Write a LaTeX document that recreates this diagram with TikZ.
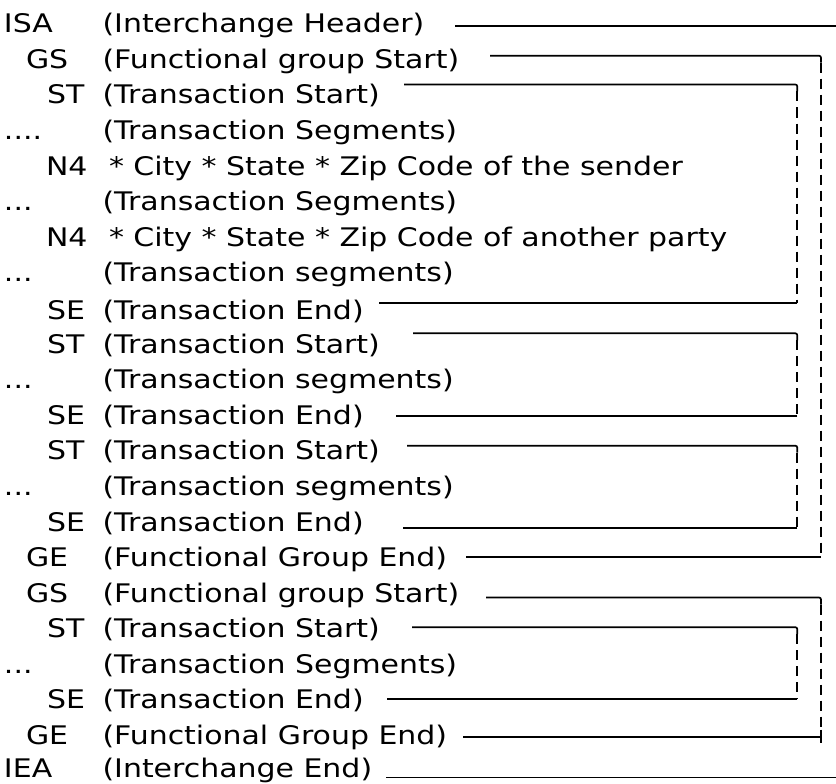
\documentclass[tikz,border=0pt]{standalone}
\usepackage{fontspec}
\setmainfont{DejaVu Sans}[FakeStretch=1.17]
\begin{document}
\begin{tikzpicture}[x=1pt,y=-1pt,
  txt/.style={anchor=base west, inner sep=0pt, outer sep=0pt, font=\fontsize{25.6}{30}\selectfont},
  conn/.style={line width=1.7pt, black},
  dsh/.style={line width=1.7pt, black, dash pattern=on 10pt off 6pt}]
\useasboundingbox (0,0) rectangle (836,784);
% ---- text rows ----
\node[txt] (k0)  at (4,32.7)   {ISA};  \node[txt] (d0)  at (102.5,32.7)  {(Interchange Header)};
\node[txt] (k1)  at (26,68.3)  {GS};   \node[txt] (d1)  at (102.5,68.3)  {(Functional group Start)};
\node[txt] (k2)  at (47,103.9) {ST};   \node[txt] (d2)  at (102.5,103.9) {(Transaction Start)};
\node[txt] (k3)  at (4,139.5)  {....}; \node[txt] (d3)  at (102.5,139.5) {(Transaction Segments)};
\node[txt] (k4)  at (46,175.1) {N4};   \node[txt] (d4)  at (109,175.1)   {* City * State * Zip Code of the sender};
\node[txt] (k5)  at (4,210.7)  {...};  \node[txt] (d5)  at (102.5,210.7) {(Transaction Segments)};
\node[txt] (k6)  at (46,246.2) {N4};   \node[txt] (d6)  at (109,246.2)   {* City * State * Zip Code of another party};
\node[txt] (k7)  at (4,281.8)  {...};  \node[txt] (d7)  at (102.5,281.8) {(Transaction segments)};
\node[txt] (k8)  at (47,319)   {SE};   \node[txt] (d8)  at (102.5,319)   {(Transaction End)};
\node[txt] (k9)  at (47,353.0) {ST};   \node[txt] (d9)  at (102.5,353.0) {(Transaction Start)};
\node[txt] (k10) at (4,388.6)  {...};  \node[txt] (d10) at (102.5,388.6) {(Transaction segments)};
\node[txt] (k11) at (47,424.2) {SE};   \node[txt] (d11) at (102.5,424.2) {(Transaction End)};
\node[txt] (k12) at (47,459.8) {ST};   \node[txt] (d12) at (102.5,459.8) {(Transaction Start)};
\node[txt] (k13) at (4,495.4)  {...};  \node[txt] (d13) at (102.5,495.4) {(Transaction segments)};
\node[txt] (k14) at (47,531.0) {SE};   \node[txt] (d14) at (102.5,531.0) {(Transaction End)};
\node[txt] (k15) at (26,566.6) {GE};   \node[txt] (d15) at (102.5,566.6) {(Functional Group End)};
\node[txt] (k16) at (26,602.1) {GS};   \node[txt] (d16) at (102.5,602.1) {(Functional group Start)};
\node[txt] (k17) at (47,637.7) {ST};   \node[txt] (d17) at (102.5,637.7) {(Transaction Start)};
\node[txt] (k18) at (4,673.3)  {...};  \node[txt] (d18) at (102.5,673.3) {(Transaction Segments)};
\node[txt] (k19) at (47,708.9) {SE};   \node[txt] (d19) at (102.5,708.9) {(Transaction End)};
\node[txt] (k20) at (26,744.5) {GE};   \node[txt] (d20) at (102.5,744.5) {(Functional Group End)};
\node[txt] (k21) at (4,777.2)  {IEA};  \node[txt] (d21) at (102.5,777.2) {(Interchange End)};
% ---- connector end points ----
\coordinate (isaL) at (455,26);    \coordinate (isaR) at (836,26);
\coordinate (iaeL) at (386,777.5); \coordinate (iaeR) at (836,777.5);
\coordinate (gs1L) at (490,55.7);  \coordinate (gs1C) at (821,55.7);
\coordinate (ge1C) at (821,557);   \coordinate (ge1L) at (466,557);
\coordinate (gs2L) at (486,597.5); \coordinate (gs2C) at (821,597.5);
\coordinate (ge2C) at (821,737);   \coordinate (ge2L) at (463,737);
\coordinate (st1L) at (404,84.5);  \coordinate (st1C) at (797.3,84.5);
\coordinate (se1C) at (797.3,303); \coordinate (se1L) at (379,303);
\coordinate (st2L) at (413,333.3); \coordinate (st2C) at (797.3,333.3);
\coordinate (se2C) at (797.3,416); \coordinate (se2L) at (396,416);
\coordinate (st3L) at (407,445.7); \coordinate (st3C) at (797.3,445.7);
\coordinate (se3C) at (797.3,528.3); \coordinate (se3L) at (403,528.3);
\coordinate (st4L) at (412,627.2); \coordinate (st4C) at (797.3,627.2);
\coordinate (se4C) at (797.3,699); \coordinate (se4L) at (387,699);
% ---- interchange ----
\draw[conn] (isaL) -- (isaR);
\draw[conn] (iaeL) -- (iaeR);
% ---- functional groups ----
\draw[conn, rounded corners=2pt] (gs1L) -- (gs1C) -- ++(0,7) coordinate (gs1D);
\draw[dsh] (gs1D) -- (ge1C);
\draw[conn] (ge1C) -- (ge1L);
\draw[conn, rounded corners=2pt] (gs2L) -- (gs2C) -- ++(0,7) coordinate (gs2D);
\draw[dsh] (gs2D) -- ++(0,125) coordinate (ge2T);
\draw[conn] (ge2T) -- ++(0,13);
\draw[conn] (ge2C) -- (ge2L);
% ---- transactions ----
\draw[conn, rounded corners=2pt] (st1L) -- (st1C) -- ++(0,7) coordinate (st1D);
\draw[dsh] (st1D) -- (se1C);
\draw[conn] (se1C) -- (se1L);
\draw[conn, rounded corners=2pt] (st2L) -- (st2C) -- ++(0,7) coordinate (st2D);
\draw[dsh] (st2D) -- (se2C);
\draw[conn] (se2C) -- (se2L);
\draw[conn, rounded corners=2pt] (st3L) -- (st3C) -- ++(0,7) coordinate (st3D);
\draw[dsh] (st3D) -- (se3C);
\draw[conn] (se3C) -- (se3L);
\draw[conn, rounded corners=2pt] (st4L) -- (st4C) -- ++(0,7) coordinate (st4D);
\draw[dsh] (st4D) -- (se4C);
\draw[conn] (se4C) -- (se4L);
\end{tikzpicture}
\end{document}
